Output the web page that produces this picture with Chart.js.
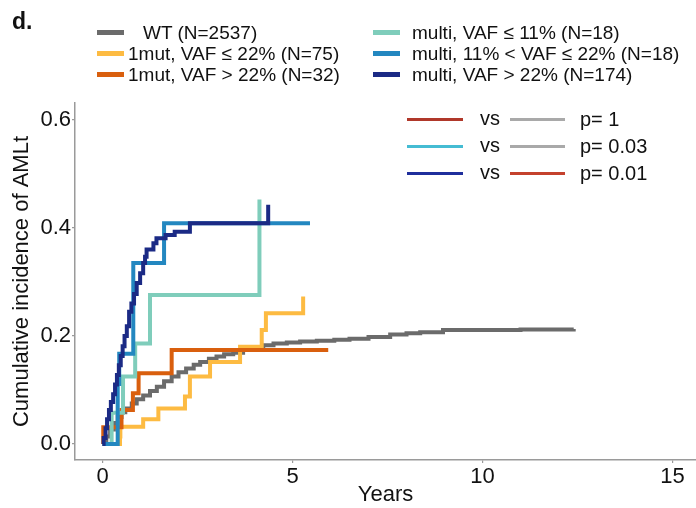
<!DOCTYPE html>
<html>
<head>
<meta charset="utf-8">
<script src="https://cdn.jsdelivr.net/npm/chart.js@4.4.1/dist/chart.umd.min.js"></script>
<style>
  body { margin: 0; background: #fff; font-family: "Liberation Sans", Arial, Helvetica, sans-serif; }
  #wrap { position: relative; width: 696px; height: 508px; overflow: hidden; }
  #chart { position: absolute; left: 0; top: 0; }
  .txt { position: absolute; white-space: pre; color: #111; line-height: 22px; }
  .key { position: absolute; }
</style>
</head>
<body>
<div id="wrap">
  <canvas id="chart" width="696" height="508"></canvas>
  <div class="txt" style="left:12px; top:8px; font-size:23px; font-weight:bold; line-height:26px;">d.</div>
  <div id="legend"></div>
  <div id="pbox"></div>
</div>
<script>
// series labels (legend order)
const seriesLabels = [
    'WT (N=2537)',
    '1mut, VAF \u2264 22% (N=75)',
    '1mut, VAF > 22% (N=32)',
    'multi, VAF \u2264 11% (N=18)',
    'multi, 11% < VAF \u2264 22% (N=18)',
    'multi, VAF > 22% (N=174)'
];
const seriesColors = ['#6b6b6b', '#fdbb42', '#d95f0e', '#7fcdbb', '#2387c0', '#1b2a85'];

// WT
const wtTime  = [0, 0.1, 0.2, 0.3, 0.4, 0.5, 0.6, 0.77, 0.9, 1.07, 1.25, 1.43, 1.62, 1.82, 2.0, 2.2, 2.4, 2.57, 2.8, 3.0, 3.2, 3.44, 3.7, 4.0, 4.23, 4.5, 4.85, 5.2, 5.64, 6.1, 6.5, 7.0, 7.57, 8.0, 8.36, 8.96, 10.0, 11.0, 12.4];
const wtValue = [0, 0.014, 0.027, 0.039, 0.05, 0.059, 0.066, 0.075, 0.083, 0.09, 0.098, 0.106, 0.116, 0.125, 0.133, 0.14, 0.147, 0.152, 0.158, 0.162, 0.166, 0.169, 0.174, 0.179, 0.183, 0.186, 0.188, 0.19, 0.191, 0.193, 0.195, 0.198, 0.203, 0.205, 0.207, 0.211, 0.211, 0.212, 0.213];

// 1 mutation, VAF <= 22%
const mut1LowTime  = [0, 0.46, 0.47, 1.07, 1.47, 2.17, 2.3, 2.83, 3.62, 4.19, 4.3, 5.28];
const mut1LowValue = [0, 0.014, 0.032, 0.046, 0.066, 0.088, 0.125, 0.152, 0.18, 0.211, 0.242, 0.273];

// 1 mutation, VAF > 22%
const mut1HighTime  = [0, 0.02, 0.5, 0.8, 0.95, 1.82, 5.94];
const mut1HighValue = [0, 0.031, 0.063, 0.094, 0.131, 0.174, 0.174];

// multi, VAF <= 11%
const multiLowTime  = [0, 0.24, 0.54, 0.86, 1.25, 4.13];
const multiLowValue = [0, 0.058, 0.125, 0.186, 0.276, 0.453];

// multi, 11% < VAF <= 22%
const multiMidTime  = [0, 0.4, 0.44, 0.81, 1.62, 5.46];
const multiMidValue = [0, 0.111, 0.167, 0.335, 0.409, 0.409];

// multi, VAF > 22%
const multiHighTime  = [0, 0.03, 0.08, 0.12, 0.17, 0.22, 0.28, 0.33, 0.38, 0.43, 0.48, 0.53, 0.58, 0.64, 0.7, 0.76, 0.83, 0.9, 0.99, 1.07, 1.12, 1.16, 1.34, 1.42, 1.66, 1.9, 2.3, 4.36];
const multiHighValue = [0, 0.011, 0.029, 0.046, 0.063, 0.078, 0.092, 0.11, 0.128, 0.146, 0.163, 0.181, 0.2, 0.218, 0.245, 0.26, 0.278, 0.298, 0.316, 0.335, 0.347, 0.36, 0.372, 0.381, 0.387, 0.393, 0.409, 0.443];

const xTicks = [0, 5, 10, 15];
const yTicks = [0, 0.2, 0.4, 0.6];

// pairwise tests shown top right
const pairLeftColors  = ['#b0382a', '#45bcd3', '#1f2e9c'];
const pairRightColors = ['#a9a9a9', '#a9a9a9', '#c4412d'];
const pValues = ['p= 1', 'p= 0.03', 'p= 0.01'];

const FONT = '"Liberation Sans", Arial, Helvetica, sans-serif';

function toPoints(times, values) {
    var pts = [];
    for (var i = 0; i < times.length; i++) {
        pts.push({ x: times[i], y: values[i] });
    }
    return pts;
}

var seriesData = [
    toPoints(wtTime, wtValue),
    toPoints(mut1LowTime, mut1LowValue),
    toPoints(mut1HighTime, mut1HighValue),
    toPoints(multiLowTime, multiLowValue),
    toPoints(multiMidTime, multiMidValue),
    toPoints(multiHighTime, multiHighValue)
];

var datasets = seriesData.map(function (pts, i) {
    return {
        label: seriesLabels[i],
        data: pts,
        borderColor: seriesColors[i],
        backgroundColor: seriesColors[i],
        borderWidth: 4,
        stepped: 'before',
        pointRadius: 0,
        fill: false,
        order: seriesData.length - i   // later groups drawn on top
    };
});

// legend (two columns of three)
var legend = document.getElementById('legend');
var rowY = [32.5, 53.5, 74.5];
seriesLabels.forEach(function (label, i) {
    var col = i < 3 ? 0 : 1;
    var row = i % 3;
    var key = document.createElement('div');
    key.className = 'key';
    key.style.left = (col ? 373 : 97) + 'px';
    key.style.width = '27px';
    key.style.height = '5px';
    key.style.top = (rowY[row] - 2.5) + 'px';
    key.style.background = seriesColors[i];
    legend.appendChild(key);
    var t = document.createElement('div');
    t.className = 'txt';
    t.style.fontSize = '19px';
    t.style.left = ((col ? 412 : 128) + (i === 0 ? 15 : 0)) + 'px';
    t.style.top = (rowY[row] - 11) + 'px';
    t.textContent = label;
    legend.appendChild(t);
});

// p-value box
var pbox = document.getElementById('pbox');
var pRowY = [119, 146, 173];
pValues.forEach(function (p, i) {
    var k1 = document.createElement('div');
    k1.className = 'key';
    k1.style.cssText = 'left:407px;width:56px;height:3px;top:' + (pRowY[i] - 1.5) + 'px;background:' + pairLeftColors[i];
    pbox.appendChild(k1);
    var vs = document.createElement('div');
    vs.className = 'txt';
    vs.style.cssText += 'font-size:20px;left:480px;top:' + (pRowY[i] - 12) + 'px';
    vs.textContent = 'vs';
    pbox.appendChild(vs);
    var k2 = document.createElement('div');
    k2.className = 'key';
    k2.style.cssText = 'left:510px;width:55px;height:3px;top:' + (pRowY[i] - 1.5) + 'px;background:' + pairRightColors[i];
    pbox.appendChild(k2);
    var pt = document.createElement('div');
    pt.className = 'txt';
    pt.style.cssText += 'font-size:20px;left:580px;top:' + (pRowY[i] - 11) + 'px';
    pt.textContent = p;
    pbox.appendChild(pt);
});

const context = document.getElementById('chart');
new Chart(context, {
    type: 'line',
    data: { datasets: datasets },
    options: {
        responsive: false,
        animation: false,
        devicePixelRatio: 1,
        layout: { padding: { top: 103, right: 0, bottom: 0, left: 0 } },
        plugins: {
            legend: { display: false },
            tooltip: { enabled: false }
        },
        scales: {
            x: {
                type: 'linear',
                min: -0.7237,
                max: 15.618,
                afterFit: function (s) { s.height = 48; },
                afterBuildTicks: function (s) { s.ticks = xTicks.map(function (v) { return { value: v }; }); },
                grid: { display: true, drawOnChartArea: false, drawTicks: true, tickLength: 3, color: '#9a9a9a', lineWidth: 1.2 },
                border: { display: true, color: '#9a9a9a', width: 1.5 },
                ticks: { color: '#111', font: { size: 22, family: FONT }, padding: 1, maxRotation: 0 },
                title: { display: true, text: 'Years', color: '#111', font: { size: 22, family: FONT }, padding: { top: 0, bottom: 0 } }
            },
            y: {
                type: 'linear',
                min: -0.0296,
                max: 0.6315,
                afterFit: function (s) { s.width = 75; },
                afterBuildTicks: function (s) { s.ticks = yTicks.map(function (v) { return { value: v }; }); },
                grid: { display: true, drawOnChartArea: false, drawTicks: true, tickLength: 3, color: '#9a9a9a', lineWidth: 1.2 },
                border: { display: true, color: '#9a9a9a', width: 1.5 },
                ticks: {
                    color: '#111', font: { size: 22, family: FONT }, padding: 1,
                    callback: function (v) { return v.toFixed(1); }
                },
                title: { display: true, text: 'Cumulative incidence of AMLt', color: '#111', font: { size: 22, family: FONT }, padding: { top: 9, bottom: 0 } }
            }
        }
    }
});
</script>
</body>
</html>
